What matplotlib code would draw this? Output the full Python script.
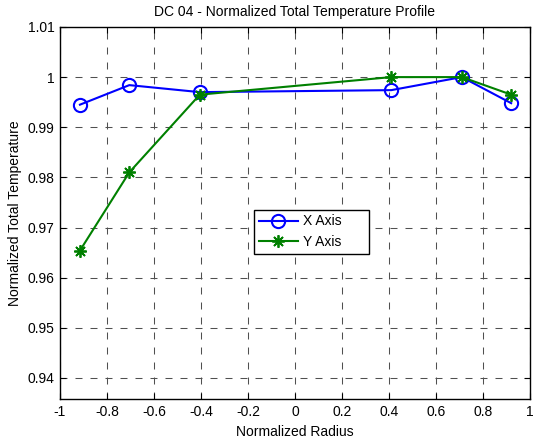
import matplotlib
matplotlib.use("Agg")
import matplotlib.pyplot as plt
from matplotlib.ticker import FuncFormatter

# radial traverse positions and normalized total temperature
radius = [-0.915, -0.705, -0.405, 0.41, 0.71, 0.92]
x_axis = [0.9945, 0.9984, 0.9970, 0.9974, 1.0000, 0.9948]
y_axis = [0.9654, 0.9810, 0.9965, 1.0000, 1.0000, 0.9965]

x_ticks = [-1, -0.8, -0.6, -0.4, -0.2, 0, 0.2, 0.4, 0.6, 0.8, 1]
y_ticks = [0.94, 0.95, 0.96, 0.97, 0.98, 0.99, 1.0, 1.01]

plt.rcParams["font.family"] = ["Liberation Sans", "DejaVu Sans"]
plt.rcParams["font.size"] = 10

fig = plt.figure(figsize=(5.35, 4.42), dpi=100)
ax = fig.add_axes([0.1121, 0.0962, 0.8785, 0.8428])

ax.plot(radius, x_axis, color="#0000ff", linewidth=1.5,
        marker="o", markersize=9.5, markerfacecolor="none",
        markeredgewidth=1.5, label="X Axis")
ax.plot(radius, y_axis, color="#008000", linewidth=1.5,
        marker=(8, 2, 0), markersize=9, markeredgewidth=1.3,
        label="Y Axis")

ax.set_xlim(-1, 1)
ax.set_ylim(0.9357, 1.01)
ax.set_xticks(x_ticks)
ax.set_yticks(y_ticks)
fmt = FuncFormatter(lambda v, p: "%g" % round(v, 4))
ax.xaxis.set_major_formatter(fmt)
ax.yaxis.set_major_formatter(fmt)

ax.tick_params(direction="in", length=4, width=0.8, top=True, right=True,
               labelsize=10, pad=4, colors="black")
for s in ax.spines.values():
    s.set_linewidth(1.0)

ax.grid(True, color="#505050", linestyle=(0, (6.7, 7.7)), linewidth=0.75)
ax.set_axisbelow(True)

ax.set_title("DC 04 - Normalized Total Temperature Profile", fontsize=10, pad=8)
ax.set_xlabel("Normalized Radius", fontsize=10, labelpad=4)
ax.set_ylabel("Normalized Total Temperature", fontsize=10, labelpad=4)

leg = ax.legend(loc="lower left", bbox_to_anchor=(0.413, 0.39, 0.244, 0.123),
                mode="expand", fancybox=False, framealpha=1,
                edgecolor="black", fontsize=10, handlelength=2.8,
                borderaxespad=0, handletextpad=0.4, labelspacing=0.5,
                borderpad=0.35)
leg.get_frame().set_linewidth(1.0)

fig.savefig("out.png", dpi=100)
